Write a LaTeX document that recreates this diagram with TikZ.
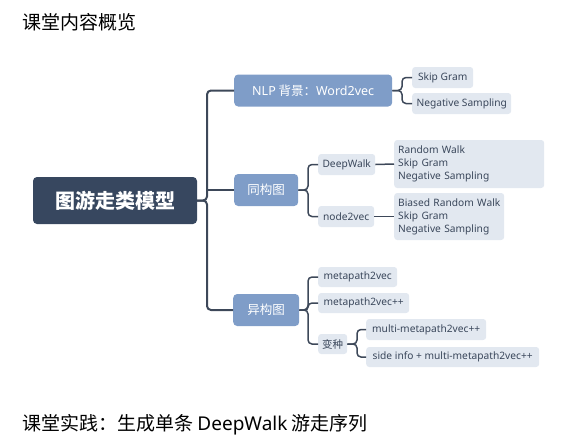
\documentclass[tikz,border=0pt]{standalone}
\usepackage{fontspec}
\setmainfont{Noto Sans CJK SC}
\newfontfamily\lat{Noto Sans}
\definecolor{rootc}{HTML}{37475F}
\definecolor{midc}{HTML}{7F9DC8}
\definecolor{lightc}{HTML}{E2E8F0}
\definecolor{linec}{HTML}{3D4859}
\definecolor{txtc}{HTML}{3A475B}
\tikzset{
  rootbox/.style={fill=rootc, text=white, rounded corners=4pt, minimum width=164pt, minimum height=47pt, font=\fontsize{20}{24}\selectfont\bfseries, inner sep=0pt},
  midbox/.style={fill=midc, text=white, rounded corners=4pt, minimum height=32pt, font=\fontsize{12.5}{15}\selectfont, inner sep=0pt, anchor=west},
  leafbox/.style={fill=lightc, text=txtc, rounded corners=3pt, minimum height=21pt, font=\fontsize{10.2}{13}\selectfont\lat, inner sep=0pt, anchor=west},
  detbox/.style={fill=lightc, text=txtc, rounded corners=3pt, font=\fontsize{10.2}{13}\selectfont\lat, inner xsep=4pt, inner ysep=0pt, align=left, anchor=west},
  trunk/.style={draw=linec, line width=2pt, rounded corners=4pt},
  br/.style={draw=linec, line width=1.5pt, rounded corners=4pt},
}
\begin{document}
\begin{tikzpicture}[x=1pt,y=-1pt]
\useasboundingbox (0,0) rectangle (578,447);
\node[anchor=west, font=\fontsize{19}{22}\selectfont, text=black, inner sep=0pt] (title) at (22,22) {课堂内容概览};
\node[anchor=west, font=\fontsize{19}{22}\selectfont, text=black, inner sep=0pt] (prac) at (22,425) {课堂实践：生成单条 {\lat DeepWalk} 游走序列};

\node[rootbox] (root) at (115,200.5) {图游走类模型};
\node[midbox, minimum width=158pt] (nlp) at (234,90.5) {{\lat NLP} 背景：{\lat Word2vec}};
\node[midbox, minimum width=64pt] (tong) at (234,190) {同构图};
\node[midbox, minimum width=66pt] (yi) at (233,310) {异构图};

\coordinate (t0) at (207,200.5);
\draw[trunk] (root.east) -- (t0) |- (nlp.west);
\draw[trunk] (root.east) -- (t0) |- (yi.west);
\draw[trunk] (tong.west) -- ++(-27,0);

% NLP children
\node[leafbox, minimum width=61pt] (sg1) at (412,77.5) {Skip Gram};
\node[leafbox, minimum width=99pt] (ns1) at (412,103.5) {Negative Sampling};
\coordinate (b1) at (402,90.5);
\draw[br] (nlp.east) -- (b1) |- (sg1.west);
\draw[br] (nlp.east) -- (b1) |- (ns1.west);

% 同构图 children
\node[leafbox, minimum width=57pt] (dw) at (318,164.5) {DeepWalk};
\node[leafbox, minimum width=56pt] (n2v) at (318,216.5) {node2vec};
\coordinate (b2) at (308,190);
\draw[br] (tong.east) -- (b2) |- (dw.west);
\draw[br] (tong.east) -- (b2) |- (n2v.west);
\node[detbox, text width=142pt, minimum height=48pt] (dwd) at (394,164) {Random Walk\\Skip Gram\\Negative Sampling};
\node[detbox, text width=102pt, minimum height=47pt] (n2vd) at (394,216.5) {\mbox{Biased Random Walk}\\Skip Gram\\Negative Sampling};
\draw[br] (dw.east) -- (dwd.west);
\draw[br] (n2v.east) -- (n2vd.west);

% 异构图 children
\node[leafbox, minimum width=79pt, minimum height=20pt] (mp) at (318,277) {metapath2vec};
\node[leafbox, minimum width=91pt, minimum height=20pt] (mpp) at (318,303) {metapath2vec++};
\node[leafbox, minimum width=29pt, minimum height=20pt, font=\fontsize{10.5}{13}\selectfont] (bz) at (318,344) {变种};
\coordinate (b3) at (308,310);
\draw[br] (yi.east) -- (b3) |- (mp.west);
\draw[br] (yi.east) -- (b3) |- (mpp.west);
\draw[br] (yi.east) -- (b3) |- (bz.west);

\node[leafbox, minimum width=120pt] (multi) at (366,329.5) {multi-metapath2vec++};
\node[leafbox, minimum width=173pt, minimum height=20pt] (side) at (366,357) {side info + multi-metapath2vec++};
\coordinate (b4) at (357,344);
\draw[br] (bz.east) -- (b4) |- (multi.west);
\draw[br] (bz.east) -- (b4) |- (side.west);
\end{tikzpicture}
\end{document}
